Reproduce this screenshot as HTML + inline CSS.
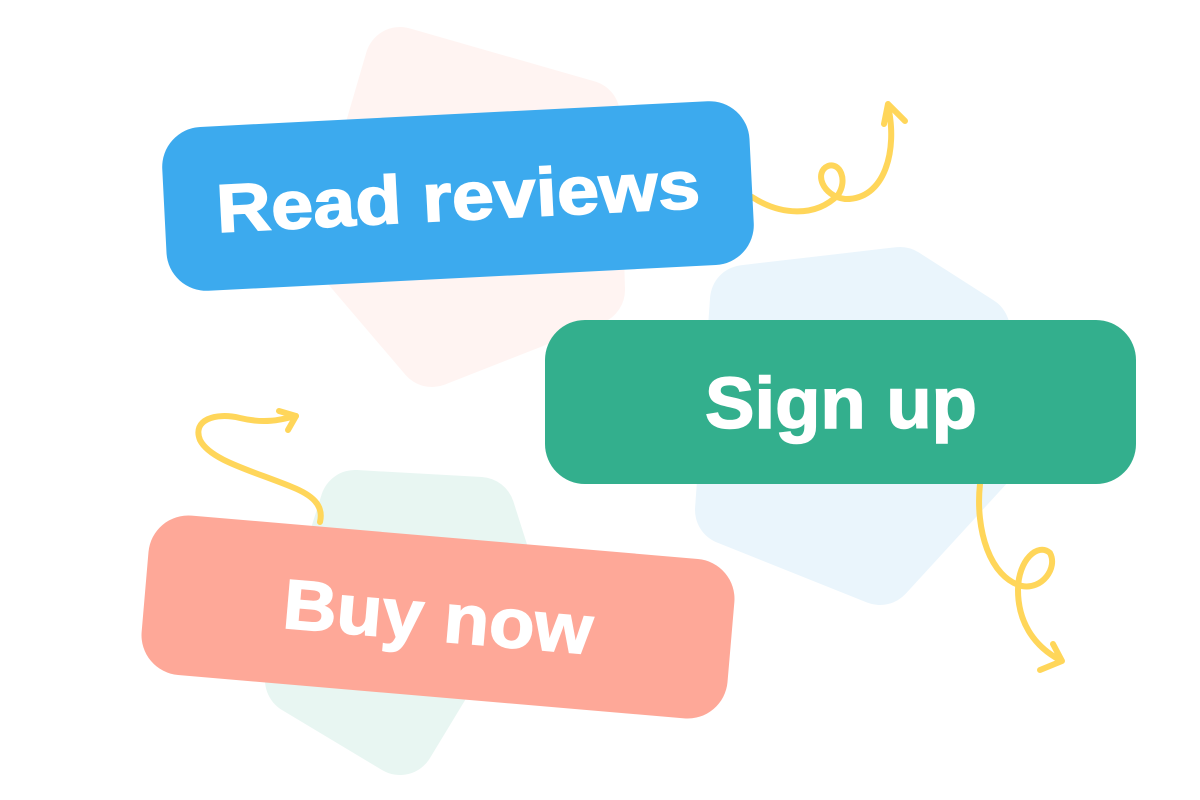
<!DOCTYPE html>
<html><head><meta charset="utf-8"><style>
html,body{margin:0;padding:0;background:#fff;width:1200px;height:800px;overflow:hidden}
svg{display:block}
text{font-family:"Liberation Sans",sans-serif;font-weight:bold;fill:#fff}
</style></head><body>
<svg width="1200" height="800" viewBox="0 0 1200 800" xmlns="http://www.w3.org/2000/svg">
<g stroke-linejoin="round" stroke-width="70">
<path d="M400,62 L585,115 L590,290 L432,352 L345,250 Z" fill="#FFF4F2" stroke="#FFF4F2"/>
<path d="M745,300 L900,282 L975,330 L990,450 L880,570 L730,510 Z" fill="#EAF5FC" stroke="#EAF5FC"/>
<path d="M355,505 L480,512 L500,575 L400,740 L300,680 Z" fill="#E8F6F2" stroke="#E8F6F2"/>
</g>
<g fill="none" stroke="#FFD65A" stroke-width="6" stroke-linecap="round" stroke-linejoin="round">
<path d="M752,197 C780,215 815,218 838,195 C848,180 840,162 828,166 C814,172 822,196 845,199 C885,200 898,150 888,106"/>
<path d="M884,124 L888,104 L905,121"/>
<path d="M320,522 C324,505 312,495 292,487 C250,470 210,460 200,440 C192,420 215,412 240,418 C265,424 280,420 296,416"/>
<path d="M279,411 L296,416 L288,430"/>
<path d="M980,484 C975,530 990,578 1022,586 C1042,590 1058,568 1050,553 C1038,542 1018,560 1018,590 C1018,620 1032,645 1060,660"/>
<path d="M1040,670 L1062,661 L1053,644"/>
</g>
<g transform="translate(458,196) rotate(-2.9)">
<rect x="-294" y="-82" width="588" height="164" rx="40" fill="#3CAAEE"/>
<text x="0" y="24" font-size="68" text-anchor="middle" textLength="484" lengthAdjust="spacingAndGlyphs" stroke="#fff" stroke-width="1.5">Read reviews</text>
</g>
<rect x="545" y="320" width="591" height="164" rx="40" fill="#33AF8D"/>
<text x="841" y="428" font-size="72" text-anchor="middle" textLength="272" lengthAdjust="spacingAndGlyphs" stroke="#fff" stroke-width="1.5">Sign up</text>
<g transform="translate(438,617) rotate(4.9)">
<rect x="-294" y="-80" width="588" height="160" rx="40" fill="#FEA898"/>
<text x="0" y="24" font-size="70" text-anchor="middle" textLength="310" lengthAdjust="spacingAndGlyphs" stroke="#fff" stroke-width="1.5">Buy now</text>
</g>
</svg>
</body></html>
